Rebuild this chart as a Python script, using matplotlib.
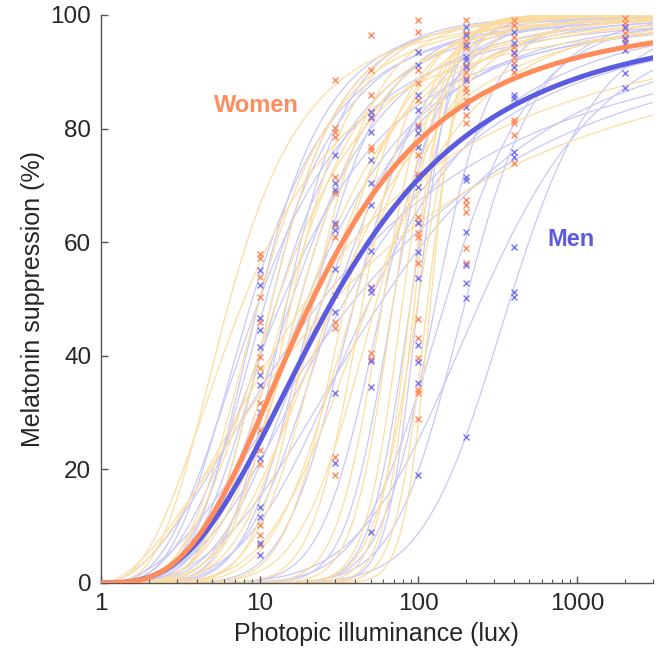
import numpy as np
import matplotlib
matplotlib.use("Agg")
import matplotlib.pyplot as plt
from matplotlib.ticker import FixedLocator, LogLocator, NullFormatter

plt.rcParams['font.family'] = ['Liberation Sans', 'DejaVu Sans']

# lux levels where suppression was measured
lux_levels = [10, 30, 50, 100, 200, 400, 2000]

# measured suppression (%) per lux level
women_points = {
    10: [58.0, 57.2, 53.9, 50.4, 46.0, 39.8, 37.9, 31.7, 26.9, 23.4, 21.0, 10.2, 8.5, 6.7],
    30: [88.6, 80.1, 79.4, 78.5, 71.5, 68.7, 63.0, 60.9, 50.7, 46.0, 44.9, 22.2, 19.0],
    50: [96.5, 90.3, 85.9, 82.9, 81.9, 76.8, 76.2, 52.1, 40.5, 39.5],
    100: [99.1, 97.0, 93.5, 90.3, 88.0, 85.0, 80.6, 75.4, 72.0, 64.4, 63.6, 61.6, 60.9,
          56.3, 46.5, 43.1, 39.6, 34.0, 33.5, 28.9],
    200: [99.1, 96.8, 95.5, 94.2, 91.2, 90.0, 88.9, 87.1, 86.4, 85.0, 82.4, 81.0, 67.4,
          66.5, 65.3, 59.0, 56.3],
    400: [99.1, 98.2, 96.1, 94.4, 93.5, 92.6, 91.5, 90.0, 81.5, 81.0, 78.9, 73.9],
    2000: [99.5, 98.6, 97.7, 96.8, 95.6],
}
men_points = {
    10: [55.1, 52.5, 46.7, 44.5, 41.5, 36.6, 34.9, 30.1, 22.0, 13.4, 11.6, 7.0, 5.0],
    30: [75.4, 70.4, 69.2, 63.4, 62.1, 55.3, 47.7, 33.5, 21.1],
    50: [83.0, 82.0, 79.4, 74.5, 70.5, 66.5, 58.5, 52.0, 51.3, 39.0, 34.5, 9.0],
    100: [93.5, 91.2, 86.0, 83.3, 80.3, 79.2, 76.8, 71.5, 69.7, 63.4, 58.3, 53.7, 41.9,
          38.9, 35.2, 19.0],
    200: [97.9, 96.5, 94.7, 92.6, 92.1, 90.8, 88.6, 83.8, 71.5, 71.0, 61.8, 56.0, 52.8,
          50.2, 25.7],
    400: [97.0, 95.0, 93.3, 90.8, 85.9, 85.4, 75.9, 75.0, 59.2, 51.2, 50.4],
    2000: [97.9, 96.0, 95.0, 93.8, 89.8, 87.1],
}

# individual fits: half-max illuminance (lux) and slope
women_ec50 = [6.5, 8, 10, 12, 13, 15, 16, 18, 20, 22, 25, 28, 30, 35, 40, 45, 60, 70,
              80, 90, 95, 100, 30, 20, 50, 55, 115, 120]
women_slope = [3.3, 2.5, 4, 5, 3.5, 4.5, 6, 5, 4, 7, 5, 6, 4, 8, 6, 10, 12, 14,
               16, 18, 20, 14, 1.8, 2.1, 5, 7, 20, 24]
men_ec50 = [9, 10, 10, 11, 12, 13, 14, 15, 16, 18, 20, 22, 25, 30, 35, 40, 50, 60, 70,
            90, 100, 130, 150, 200, 380, 40, 25, 60, 250]
men_slope = [3.5, 3, 4.5, 4, 5, 4, 3, 6, 4, 5, 3.5, 6, 4, 5, 3, 7, 4, 9, 12,
             15, 20, 12, 8, 10, 9.2, 2.2, 2.0, 3, 6]

# group fits
women_group = (21.6, 3.1)
men_group = (29.2, 2.9)


def log_hill(lux, ec50, n):
    L = np.log10(lux)
    c = np.log10(ec50)
    return 100 * L**n / (L**n + c**n)


lux = np.logspace(0, np.log10(3000), 500)

W_LIGHT = '#FDDCA0'
M_LIGHT = '#C8C8F5'
W_MARK = '#FF8A5B'
M_MARK = '#7676F0'
W_THICK = '#FF8C5A'
M_THICK = '#5B5BE0'

fig = plt.figure(figsize=(6.6, 6.6), dpi=100)
ax = fig.add_axes([0.153, 0.1167, 0.836, 0.8606])

for e, n in zip(men_ec50, men_slope):
    ax.plot(lux, log_hill(lux, e, n), color=M_LIGHT, lw=0.9, zorder=1)
for e, n in zip(women_ec50, women_slope):
    ax.plot(lux, log_hill(lux, e, n), color=W_LIGHT, lw=0.9, zorder=1)

for lv in lux_levels:
    ax.plot([lv] * len(women_points[lv]), women_points[lv], 'x', color=W_MARK,
            ms=5, mew=1.0, zorder=2)
    ax.plot([lv] * len(men_points[lv]), men_points[lv], 'x', color=M_MARK,
            ms=5, mew=1.0, zorder=2)

ax.plot(lux, log_hill(lux, *men_group), color=M_THICK, lw=3.6, zorder=3)
ax.plot(lux, log_hill(lux, *women_group), color=W_THICK, lw=3.6, zorder=4)

ax.text(9.6, 84, 'Women', color=W_THICK, fontsize=17, fontweight='bold',
        ha='center', va='center')
ax.text(920, 60.5, 'Men', color=M_THICK, fontsize=17, fontweight='bold',
        ha='center', va='center')

ax.set_xscale('log')
ax.set_xlim(1, 3000)
ax.set_ylim(0, 100)
ax.xaxis.set_major_locator(FixedLocator([1, 10, 100, 1000]))
ax.set_xticklabels(['1', '10', '100', '1000'])
ax.xaxis.set_minor_locator(LogLocator(base=10, subs=np.arange(2, 10), numticks=20))
ax.xaxis.set_minor_formatter(NullFormatter())
ax.set_yticks([0, 20, 40, 60, 80, 100])

for s in ['top', 'right']:
    ax.spines[s].set_visible(False)
for s in ['left', 'bottom']:
    ax.spines[s].set_color('#555555')
    ax.spines[s].set_linewidth(1.0)

ax.tick_params(which='major', direction='in', length=5, width=1, colors='#555555',
               labelcolor='#262626', labelsize=17.5, pad=7)
ax.tick_params(which='minor', direction='in', length=3, width=0.8, colors='#555555')

ax.set_xlabel('Photopic illuminance (lux)', fontsize=18, color='#262626', labelpad=5)
ax.set_ylabel('Melatonin suppression (%)', fontsize=18, color='#262626', labelpad=4)

fig.savefig('out.png', dpi=100)
